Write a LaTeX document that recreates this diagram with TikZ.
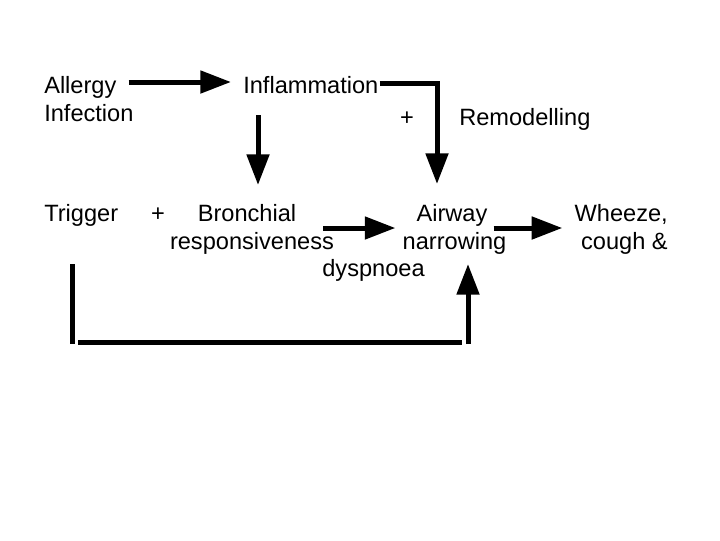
\documentclass[tikz,border=0pt]{standalone}
\usepackage{fontspec}
\setmainfont{Liberation Sans}
\usetikzlibrary{arrows.meta}
\begin{document}
\begin{tikzpicture}
      [x=0.75pt, y=-0.75pt,
       every node/.style={inner sep=0pt, font=\fontsize{17.7}{21}\selectfont},
       bigarrow/.style={line width=3.75pt, -{Triangle[length=23pt, width=16.5pt]}},
       bigline/.style={line width=3.75pt}]
      \useasboundingbox (0, 0) rectangle (720, 540);
      \node[anchor=base west](allergy) at (44, 93) {Allergy};
      \node[anchor=base west](infection) at (44, 121) {Infection};
      \node[anchor=base west](inflam) at (243, 93) {Inflammation};
      \node[anchor=base](plusA) at (407, 125) {+};
      \node[anchor=base west](remod) at (459, 125) {Remodelling};
      \node[anchor=base west](trigger) at (44, 221) {Trigger};
      \node[anchor=base](plusB) at (158, 221) {+};
      \node[anchor=base](bronch) at (247, 221) {Bronchial};
      \node[anchor=base](respons) at (252, 249) {responsiveness};
      \node[anchor=base](airway) at (452, 221) {Airway};
      \node[anchor=base](narrow) at (454.5, 249) {narrowing};
      \node[anchor=base](dysp) at (373.5, 276) {dyspnoea};
      \node[anchor=base east](wheeze) at (668, 221) {Wheeze,};
      \node[anchor=base east](cough) at (668, 249) {cough \&};
      \coordinate(loopL) at (72, 342);
      \coordinate(loopR) at (468, 342);
      \draw[bigarrow]([shift={(12,-11)}]allergy.base east) -- ([shift={(-12,-11)}]inflam.base west);
      \draw[bigarrow]([shift={(1,-10)}]inflam.base east) -| ([shift={(-15,-37)}]airway.base);
      \draw[bigarrow]([shift={(15,22)}]inflam.base west) -- ([shift={(11,-36)}]bronch.base);
      \draw[bigarrow]([shift={(-11,-21)}]respons.base east) -- ([shift={(-7,-21)}]narrow.base west);
      \draw[bigarrow]([shift={(-13,-21)}]narrow.base east) -- ([shift={(-12,7)}]wheeze.base west);
      % feedback from trigger
      \draw[bigline]([shift={(28,43)}]trigger.base west) -- ([yshift=-1.5pt]loopL);
      \draw[bigline]([xshift=4.5pt]loopL) -- ([xshift=-4.5pt]loopR);
      \draw[bigarrow]([yshift=-1.5pt]loopR) -- ([shift={(13.5,15)}]narrow.base);
\end{tikzpicture}
\end{document}
